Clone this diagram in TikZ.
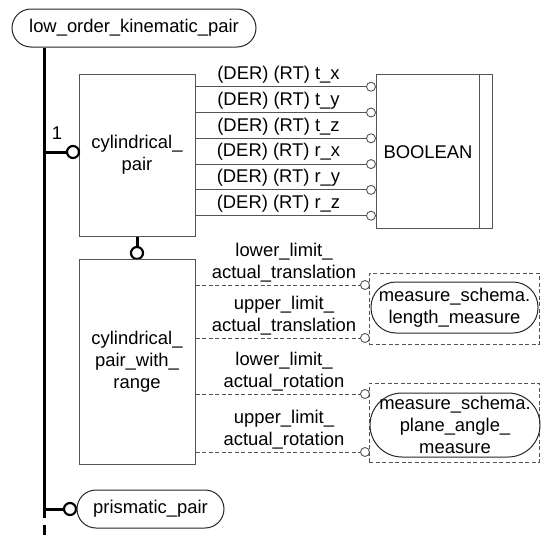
\documentclass[tikz,border=0pt]{standalone}
\usepackage{fontspec}
\setmainfont{Liberation Sans}
\definecolor{edgegray}{gray}{0.33}
\begin{document}
\begin{tikzpicture}[x=1pt,y=-1pt,
  font=\fontsize{18.4}{21.8}\selectfont,
  entity/.style={draw=edgegray, line width=1pt, rectangle, inner sep=0pt, align=center},
  typebox/.style={draw=black!85, line width=1pt, rectangle, inner sep=0pt, align=center},
  ring/.style={draw=black, circle, fill=white, inner sep=0pt, minimum size=12pt, line width=2.2pt},
  smallring/.style={draw=edgegray, circle, fill=white, inner sep=0pt, minimum size=9pt, line width=0.9pt},
  attr/.style={draw=edgegray, line width=1pt},
  optattr/.style={attr, dash pattern=on 4pt off 2.5pt},
  groupbox/.style={draw=edgegray, line width=1pt, dash pattern=on 4pt off 2.5pt, inner sep=0pt},
  mainlink/.style={draw=black, line width=3pt},
  lbl/.style={inner sep=0pt, align=center}
]
\useasboundingbox (0,0) rectangle (543,541);

% supertype and the subtype tree line
\node[typebox, rounded corners=19pt, minimum width=244pt, minimum height=38pt] (top) at (134,28) {low\_order\_kinematic\_pair};
\coordinate (mx) at (44,0);
\coordinate (mainend) at (44,518);
\coordinate (tailstart) at (44,525);
\coordinate (tailend) at (44,535);
\draw[mainlink] (top.south -| mx) -- (mainend);
\draw[mainlink] (tailstart) -- (tailend);

% cylindrical_pair
\node[entity, minimum width=116pt, minimum height=162pt] (cp) at (137,155) {cylindrical\_\\pair};
\node[ring] (r1) at (73,152) {};
\draw[mainlink] (r1 -| mx) -- (r1.west);
\node[lbl] (one) at (57,133) {1};

% BOOLEAN type
\node[entity, minimum width=116pt, minimum height=154pt] (bool) at (434,151) {};
\draw[attr] ([xshift=-13pt]bool.north east) -- ([xshift=-13pt]bool.south east);
\node[lbl] (boolt) at (428,152) {BOOLEAN};

% derived attributes of cylindrical_pair
\foreach \i/\nm in {0/{t\_x},1/{t\_y},2/{t\_z},3/{r\_x},4/{r\_y},5/{r\_z}} {
  \pgfmathsetmacro{\yy}{86.7+25.8*\i}
  \node[smallring] (a\i) at (371,\yy) {};
  \draw[attr] (cp.east |- a\i) -- (a\i.west);
  \node[lbl] (al\i) at (278.5,\yy-12) {(DER) (RT) \nm};
}

% cylindrical_pair_with_range
\node[ring] (r2) at (137,253) {};
\draw[mainlink] (cp.south) -- (r2.north);
\node[entity, minimum width=116pt, minimum height=205pt] (cpr) at (137,361.5) {cylindrical\_\\pair\_with\_\\range};

% measure types
\node[groupbox, minimum width=170pt, minimum height=71pt] (lmgroup) at (454,308.5) {};
\node[typebox, rounded corners=25pt, minimum width=167pt, minimum height=51pt] (lm) at (454.5,307.5) {measure\_schema.\\length\_measure};
\node[groupbox, minimum width=170pt, minimum height=79pt] (pamgroup) at (454,422.5) {};
\node[typebox, rounded corners=32pt, minimum width=170pt, minimum height=64pt] (pam) at (455,425) {measure\_schema.\\plane\_angle\_\\measure};

% optional range attributes
\foreach \i/\yy/\nm in {0/285/{lower\_limit\_\\actual\_translation},
                        1/338/{upper\_limit\_\\actual\_translation},
                        2/394/{lower\_limit\_\\actual\_rotation},
                        3/452/{upper\_limit\_\\actual\_rotation}} {
  \node[smallring] (b\i) at (365,\yy) {};
  \draw[optattr] (cpr.east |- b\i) -- (b\i.west);
  \node[lbl] (bl\i) at (284,\yy-22) {\nm};
}

% prismatic_pair
\node[ring] (r3) at (70,509) {};
\draw[mainlink] (r3 -| mx) -- (r3.west);
\node[typebox, rounded corners=19pt, minimum width=147pt, minimum height=38pt] (pp) at (150.5,509) {prismatic\_pair};
\end{tikzpicture}
\end{document}
